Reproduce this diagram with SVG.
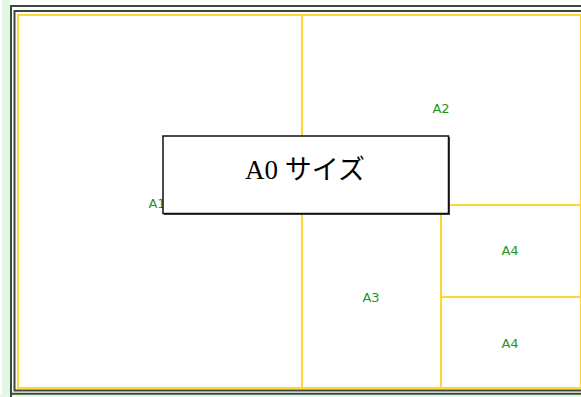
<svg xmlns="http://www.w3.org/2000/svg" width="581" height="397" viewBox="0 0 581 397">
<style>
.frame{fill:none;stroke:#3a4a3a;stroke-width:2}
.yl{fill:none;stroke:#ffd633;stroke-width:2}
.lbl{font-family:"DejaVu Sans","Liberation Sans",sans-serif;font-size:13px;fill:#1d951d;text-anchor:middle;dominant-baseline:central}
.title{font-family:"Liberation Serif","Noto Sans CJK JP",serif;font-size:27px;fill:#000;text-anchor:middle}
</style>
<rect x="0" y="0" width="581" height="397" fill="#ffffff"/>
<rect x="2" y="0" width="8" height="397" fill="#e4f6e4"/>
<rect x="0" y="395" width="581" height="2" fill="#e4f6e4"/>
<g id="frame">
<path class="frame" d="M11,397 V6 H581"/>
<path class="frame" d="M581,11 H14.5 V390.5 H581"/>
<path class="frame" d="M11,393.8 H581"/>
<rect class="yl" x="18" y="15" width="563" height="373"/>
</g>
<g id="connectors">
<line class="yl" x1="302" y1="15" x2="302" y2="388"/>
<line class="yl" x1="302" y1="205" x2="581" y2="205"/>
<line class="yl" x1="441" y1="205" x2="441" y2="388"/>
<line class="yl" x1="441" y1="297" x2="581" y2="297"/>
</g>
<g id="A1"><text class="lbl" x="157" y="203">A1</text></g>
<g id="A2"><text class="lbl" x="441" y="108">A2</text></g>
<g id="A3"><text class="lbl" x="371" y="297">A3</text></g>
<g id="A4a"><text class="lbl" x="510" y="250">A4</text></g>
<g id="A4b"><text class="lbl" x="510" y="343">A4</text></g>
<g id="title">
<rect x="164" y="137" width="286" height="78" fill="#444"/>
<rect x="163" y="136" width="285.5" height="77.5" fill="#fff" stroke="#111" stroke-width="1.5"/>
<text class="title" x="305" y="179">A0 サイズ</text>
</g>
</svg>
